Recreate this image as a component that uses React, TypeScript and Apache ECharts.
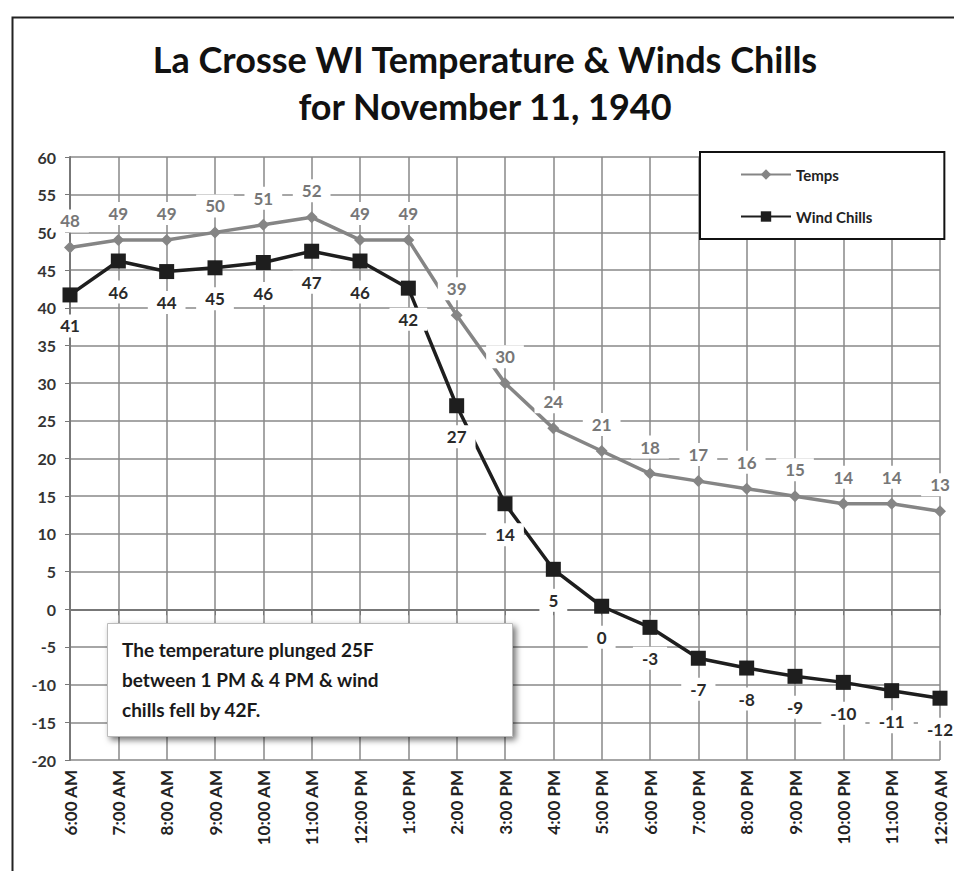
import React, { useEffect, useRef } from "react";
import * as echarts from "echarts";

const categories = [
  "6:00 AM", "7:00 AM", "8:00 AM", "9:00 AM", "10:00 AM", "11:00 AM",
  "12:00 PM", "1:00 PM", "2:00 PM", "3:00 PM", "4:00 PM", "5:00 PM",
  "6:00 PM", "7:00 PM", "8:00 PM", "9:00 PM", "10:00 PM", "11:00 PM", "12:00 AM",
];
const temps = [48, 49, 49, 50, 51, 52, 49, 49, 39, 30, 24, 21, 18, 17, 16, 15, 14, 14, 13];
const windChills = [41.7, 46.2, 44.8, 45.3, 46.0, 47.5, 46.2, 42.6, 27.0, 14.0, 5.3, 0.4, -2.4, -6.5, -7.8, -8.9, -9.7, -10.8, -11.8];
const titleLines = ["La Crosse WI Temperature & Winds Chills", "for November 11, 1940"];
const noteLines = [
  "The temperature plunged 25F",
  "between 1 PM & 4 PM & wind",
  "chills fell by 42F.",
];

const FONT = "Lato, 'Open Sans', sans-serif";

export default function App() {
  const ref = useRef<HTMLDivElement>(null);
  useEffect(() => {
    if (!ref.current) return;
    const chart = echarts.init(ref.current, null, { renderer: "svg" });
    chart.setOption({
      animation: false,
      backgroundColor: "#ffffff",
      textStyle: { fontFamily: FONT },
      title: {
        text: titleLines.join("\n"),
        left: 480,
        textAlign: "center",
        top: 30,
        textStyle: {
          fontFamily: FONT,
          fontSize: 36,
          fontWeight: "bold",
          color: "#111",
          lineHeight: 47,
        },
      },
      legend: {
        orient: "vertical",
        left: 700,
        top: 152,
        backgroundColor: "#fff",
        borderColor: "#111",
        borderWidth: 2,
        borderRadius: 0,
        padding: [15, 72, 15, 40],
        itemGap: 27,
        itemWidth: 50,
        itemHeight: 13,
        textStyle: { fontFamily: FONT, fontWeight: "bold", fontSize: 15, color: "#222" },
        data: ["Temps", "Wind Chills"],
      },
      grid: { left: 70, right: 14, top: 157, bottom: 111, containLabel: false },
      xAxis: {
        type: "category",
        data: categories,
        boundaryGap: false,
        axisLine: { lineStyle: { color: "#777", width: 2 } },
        axisTick: { show: true, length: 6, lineStyle: { color: "#777" } },
        axisLabel: {
          rotate: 90,
          interval: 0,
          fontFamily: FONT,
          fontWeight: "bold",
          fontSize: 17,
          color: "#222",
          margin: 10,
        },
        splitLine: { show: true, lineStyle: { color: "#888", width: 1.5 } },
      },
      yAxis: {
        type: "value",
        min: -20,
        max: 60,
        interval: 5,
        axisLine: { show: true, lineStyle: { color: "#777", width: 2 } },
        axisTick: { show: true, length: 5, lineStyle: { color: "#777" } },
        axisLabel: {
          fontFamily: FONT,
          fontWeight: "bold",
          fontSize: 16,
          color: "#333",
          margin: 14,
        },
        splitLine: { show: true, lineStyle: { color: "#888", width: 1.5 } },
      },
      series: [
        {
          name: "Temps",
          type: "line",
          data: temps,
          symbol: "diamond",
          symbolSize: 12,
          lineStyle: { color: "#858585", width: 3.5 },
          itemStyle: { color: "#858585" },
          z: 3,
          label: {
            show: true,
            position: "top",
            distance: 9,
            fontFamily: FONT,
            fontSize: 17,
            fontWeight: "bold",
            color: "#777",
            backgroundColor: "#fff",
            padding: [3, 9],
          },
        },
        {
          name: "Wind Chills",
          type: "line",
          data: windChills,
          symbol: "rect",
          symbolSize: 15,
          lineStyle: { color: "#1e1e1e", width: 3.5 },
          itemStyle: { color: "#1e1e1e" },
          z: 4,
          label: {
            show: true,
            position: "bottom",
            distance: 12,
            fontFamily: FONT,
            fontSize: 17,
            fontWeight: "bold",
            color: "#2a2a2a",
            backgroundColor: "#fff",
            padding: [3, 9],
            formatter: (p: any) => String(Math.floor(p.value)),
          },
        },
      ],
      graphic: [
        {
          type: "rect",
          left: 10,
          top: 15,
          shape: { x: 0, y: 0, width: 980, height: 900 },
          style: { fill: "none", stroke: "#222", lineWidth: 2 },
          silent: true,
          z: 0,
        },
        {
          type: "rect",
          left: 107,
          top: 623,
          z: 100,
          shape: { x: 0, y: 0, width: 405, height: 113 },
          style: {
            fill: "#ffffff",
            stroke: "#bbb",
            lineWidth: 1,
            shadowBlur: 6,
            shadowOffsetX: 3,
            shadowOffsetY: 3,
            shadowColor: "rgba(0,0,0,0.55)",
          },
        },
        {
          type: "text",
          left: 122,
          top: 634,
          z: 101,
          style: {
            text: noteLines.join("\n"),
            fontFamily: FONT,
            fontSize: 19,
            fontWeight: "bold",
            fill: "#1a1a1a",
            lineHeight: 30,
          },
        },
      ],
    });
    return () => chart.dispose();
  }, []);
  return (
    <div
      ref={ref}
      style={{ position: "fixed", left: 0, top: 0, width: 954, height: 871 }}
    />
  );
}
